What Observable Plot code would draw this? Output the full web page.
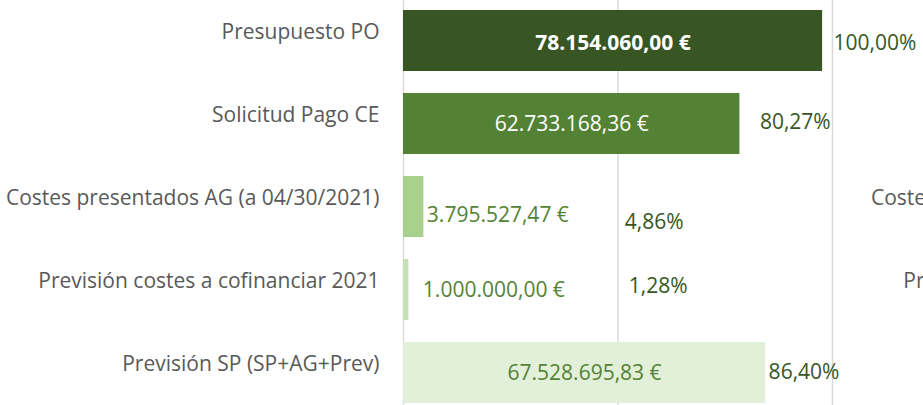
<!DOCTYPE html>
<html><head><meta charset="utf-8">
<script src="https://cdn.jsdelivr.net/npm/d3@7"></script>
<script src="https://cdn.jsdelivr.net/npm/@observablehq/plot@0.6"></script>
<style>
html,body{margin:0;padding:0;background:#fff;overflow:hidden;}
#chart{width:923px;height:405px;overflow:hidden;}
</style>
</head><body><div id="chart"></div>
<script>
// ---- data ----
const categories = [
  "Presupuesto PO",
  "Solicitud Pago CE",
  "Costes presentados AG (a 04/30/2021)",
  "Previsión costes a cofinanciar 2021",
  "Previsión SP (SP+AG+Prev)"
];
const values = [78154060.00, 62733168.36, 3795527.47, 1000000.00, 67528695.83];
const valueLabels = ["78.154.060,00 €", "62.733.168,36 €", "3.795.527,47 €", "1.000.000,00 €", "67.528.695,83 €"];
const percentLabels = ["100,00%", "80,27%", "4,86%", "1,28%", "86,40%"];
const gridTicks = [0, 40000000, 80000000];

// ---- styling / layout ----
const FONT = "Open Sans";
const FS = 21;
const barColors = ["#375623", "#548235", "#A9D18E", "#C5E0B4", "#E2F0D9"];
const pctDx = [11, 20, 201, 220, 3];
const pctDy = [2, -1.5, 15.5, -4, -1];
const valDx = [0, 0, 3, 14, 0];
const valDy = [2, 0, 8.5, 0, 0];

const rows = categories.map((c, i) => ({category: c, value: values[i], label: valueLabels[i], pct: percentLabels[i], i}));
const insideWhite = rows.filter(d => d.i === 1);
const insideBold = rows.filter(d => d.i === 0);
const insideGreen = rows.filter(d => d.i === 4);
const outside = rows.filter(d => d.i === 2 || d.i === 3);

const chart = Plot.plot({
  width: 923,
  height: 405,
  marginLeft: 0, marginRight: 0, marginTop: 0, marginBottom: 0,
  style: {fontFamily: FONT, background: "#fff", overflow: "hidden"},
  x: {domain: [0, 96970000], range: [403, 923], axis: null},
  y: {domain: categories, range: [-13.8, 426.7], padding: 0.26, axis: null},
  marks: [
    Plot.ruleX(gridTicks, {x: d => d, stroke: "#D9D9D9", strokeWidth: 1.5}),
    Plot.barX(rows, {y: "category", x: "value", fill: (d) => barColors[d.i]}),
    // category labels
    Plot.text(rows, {x: 0, y: "category", text: "category", textAnchor: "end", dx: -24, dy: -9, fill: "#595959", fontSize: FS}),
    // neighbouring chart's category labels (cut off at the right edge)
    Plot.text(outside, {x: 0, y: "category", text: "category", textAnchor: "end", dx: 841, dy: -9, fill: "#595959", fontSize: FS}),
    // value labels
    Plot.text(insideBold, {x: d => d.value / 2, y: "category", text: "label", fill: "#fff", fontWeight: "bold", fontSize: FS, dy: 2}),
    Plot.text(insideWhite, {x: d => d.value / 2, y: "category", text: "label", fill: "#fff", fontSize: FS}),
    Plot.text(insideGreen, {x: d => d.value / 2, y: "category", text: "label", fill: "#548235", fontSize: FS}),
    Plot.text(outside, {x: "value", y: "category", text: "label", fill: "#548235", fontSize: FS, textAnchor: "start"}),
    // percentage labels
    Plot.text(rows, {x: "value", y: "category", text: "pct", fill: "#375623", fontSize: FS, textAnchor: "start"})
  ]
});
document.getElementById("chart").appendChild(chart);

// apply per-label pixel offsets (layout tweaks)
const texts = chart.querySelectorAll("g[aria-label='text']");
const outsideG = texts[5], pctG = texts[6];
outside.forEach((d, k) => {
  const t = outsideG.querySelectorAll("text")[k];
  t.setAttribute("transform", (t.getAttribute("transform") || "") + ` translate(${valDx[d.i]},${valDy[d.i]})`);
});
rows.forEach((d, k) => {
  const t = pctG.querySelectorAll("text")[k];
  t.setAttribute("transform", (t.getAttribute("transform") || "") + ` translate(${pctDx[d.i]},${pctDy[d.i]})`);
});
</script>
</body></html>
